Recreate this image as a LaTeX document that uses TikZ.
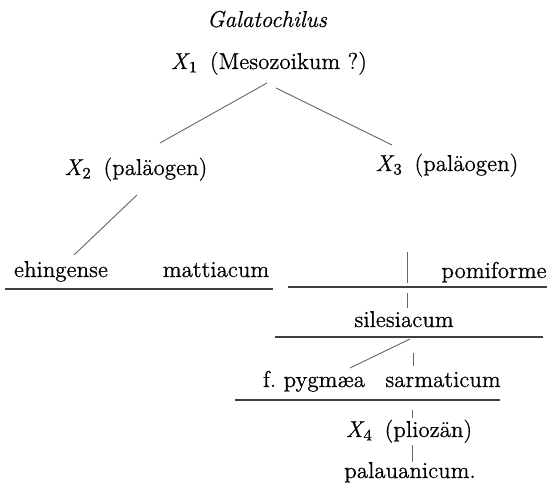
\documentclass[tikz,border=0pt]{standalone}
\usepackage{fontspec}
\newfontfamily\lbfont{Latin Modern Roman}[FakeBold=0.6]
\newcommand{\Xsub}[1]{{\itshape X}\kern0.5pt\raisebox{-0.35ex}{\fontsize{8}{9}\selectfont #1}}
\begin{document}
\begin{tikzpicture}[x=0.5pt,y=-0.5pt,
  lbl/.style={anchor=base,inner sep=0pt,font=\lbfont\fontsize{11.5}{13}\selectfont},
  link/.style={draw=black!60,line width=0.45pt},
  rule/.style={draw=black!75,line width=0.6pt}]
\useasboundingbox[fill=white] (0,0) rectangle (551,490);
% nodes
\node[lbl] (gal) at (267,27) {\itshape Galatochilus};
\node[lbl] (x1) at (269,69) {\Xsub{1}\hspace{0.55em}(Mesozoikum ?)};
\node[lbl] (x2) at (136,175) {\Xsub{2}\hspace{0.55em}(paläogen)};
\node[lbl] (x3) at (447,171) {\Xsub{3}\hspace{0.55em}(paläogen)};
\node[lbl] (ehi) at (61,277) {ehingense};
\node[lbl] (mat) at (216,277) {mattiacum};
\node[lbl] (pom) at (494,278) {pomiforme};
\node[lbl] (sil) at (404,327) {silesiacum};
\node[lbl] (pyg) at (314,387) {f.\ pygmæa};
\node[lbl] (sar) at (443,387) {sarmaticum};
\node[lbl] (x4) at (409,437) {\Xsub{4}\hspace{0.55em}(pliozän)};
\node[lbl] (pal) at (410,478) {palauanicum.};
% connector ends
\coordinate (x1l) at (267,83);
\coordinate (x2t) at (160,143);
\coordinate (x1r) at (276,88);
\coordinate (x3t) at (392,145);
\coordinate (x2b) at (137,195);
\coordinate (ehit) at (74,255);
\coordinate (ulA1) at (5,289);
\coordinate (ulA2) at (273,289);
\coordinate (ulB1) at (288,287);
\coordinate (ulB2) at (547,287);
\coordinate (vA1) at (407,252);
\coordinate (vA2) at (407,283);
\coordinate (vB1) at (407,293);
\coordinate (vB2) at (407,308);
\coordinate (ulC1) at (275,337);
\coordinate (ulC2) at (543,337);
\coordinate (sl1) at (410,339);
\coordinate (sl2) at (350,368);
\coordinate (vC1) at (413,353);
\coordinate (vC2) at (413,366);
\coordinate (ulD1) at (235,400);
\coordinate (ulD2) at (500,400);
\coordinate (vD1) at (412,410);
\coordinate (vD2) at (412,418);
\coordinate (vE1) at (412,445);
\coordinate (vE2) at (412,462);
% connectors
\draw[link] (x1l) -- (x2t);
\draw[link] (x1r) -- (x3t);
\draw[link] (x2b) -- (ehit);
\draw[rule] (ulA1) -- (ulA2);
\draw[rule] (ulB1) -- (ulB2);
\draw[link] (vA1) -- (vA2);
\draw[link] (vB1) -- (vB2);
\draw[rule] (ulC1) -- (ulC2);
\draw[link] (sl1) -- (sl2);
\draw[link] (vC1) -- (vC2);
\draw[rule] (ulD1) -- (ulD2);
\draw[link] (vD1) -- (vD2);
\draw[link] (vE1) -- (vE2);
\end{tikzpicture}
\end{document}
